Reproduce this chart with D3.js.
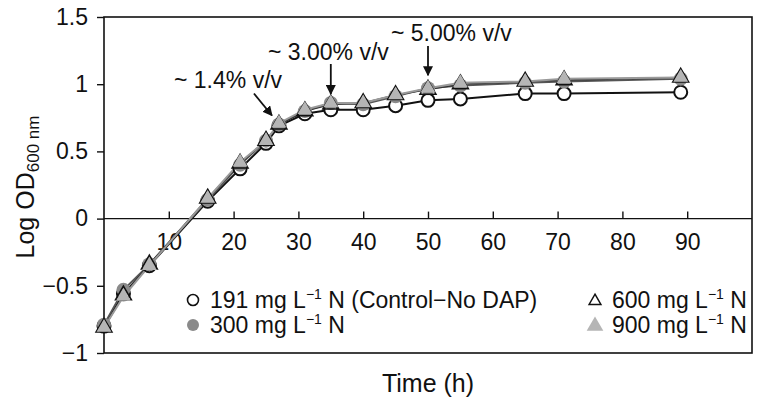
<!DOCTYPE html>
<html><head><meta charset="utf-8">
<script src="https://cdn.jsdelivr.net/npm/d3@7"></script>
<style>
body{margin:0;background:#fff;}
text{font-family:"Liberation Sans",Arial,Helvetica,sans-serif;fill:#111;}
</style></head>
<body><svg id="c" width="764" height="409"></svg>
<script>
const times = [0, 3, 7, 16, 21, 25, 27, 31, 35, 40, 45, 50, 55, 65, 71, 89];
const control191 = [-0.80, -0.56, -0.35, 0.13, 0.37, 0.56, 0.69, 0.78, 0.81, 0.81, 0.84, 0.88, 0.89, 0.93, 0.93, 0.94];
const n300 = [-0.79, -0.53, -0.34, 0.14, 0.40, 0.58, 0.70, 0.80, 0.86, 0.85, 0.91, 0.97, 0.99, 1.01, 1.02, 1.04];
const n600 = [-0.81, -0.57, -0.34, 0.15, 0.41, 0.58, 0.70, 0.80, 0.85, 0.86, 0.92, 0.96, 1.00, 1.02, 1.03, 1.05];
const n900 = [-0.81, -0.58, -0.35, 0.15, 0.42, 0.58, 0.71, 0.81, 0.86, 0.86, 0.92, 0.97, 1.01, 1.02, 1.04, 1.05];
const xTicks = [10, 20, 30, 40, 50, 60, 70, 80, 90];
const yTicks = [-1, -0.5, 0, 0.5, 1, 1.5];
const annotations = [
  {label: "~ 1.4% v/v", t: 27, v: 0.70},
  {label: "~ 3.00% v/v", t: 35, v: 0.86},
  {label: "~ 5.00% v/v", t: 50, v: 0.97}
];

const svg = d3.select("#c");
const L = 104, R = 752, T = 17, B = 353;
const FS = 23;
const x = d3.scaleLinear().domain([0, 100]).range([L, R]);
const y = d3.scaleLinear().domain([-1, 1.5]).range([B, T]);

// frame
svg.append("rect").attr("x", L).attr("y", T).attr("width", R - L).attr("height", B - T)
  .attr("fill", "none").attr("stroke", "#111").attr("stroke-width", 1.6);

// y axis
const ya = svg.append("g").attr("transform", `translate(${L},0)`)
  .call(d3.axisLeft(y).tickValues(yTicks).tickSize(7).tickPadding(9)
    .tickFormat(d => d3.format("")(d).replace("-", "\u2212")));
ya.select(".domain").remove();
ya.selectAll("line").attr("stroke", "#111").attr("stroke-width", 1.4);
ya.selectAll("text").attr("font-size", FS).attr("fill", "#111");

// x axis at y=0 with upward ticks
const xa = svg.append("g").attr("transform", `translate(0,${y(0)})`)
  .call(d3.axisBottom(x).tickValues(xTicks).tickSize(-7).tickPadding(15));
xa.select(".domain").attr("d", `M${L},0H${R}`).attr("stroke", "#111").attr("stroke-width", 1.4);
xa.selectAll("line").attr("stroke", "#111").attr("stroke-width", 1.4);
xa.selectAll("text").attr("font-size", FS).attr("fill", "#111");

// lines
const series = [
  {vals: control191, line: "#111", lw: 2},
  {vals: n300, line: "#555", lw: 1.8},
  {vals: n600, line: "#333", lw: 1.6},
  {vals: n900, line: "#9a9a9a", lw: 2}
];
const lineGen = d3.line().x((d, i) => x(times[i])).y(d => y(d));
series.forEach(s => {
  svg.append("path").attr("d", lineGen(s.vals)).attr("fill", "none")
    .attr("stroke", s.line).attr("stroke-width", s.lw);
});

const triPath = r => d3.symbol().type(d3.symbolTriangle).size(r)();

// markers
svg.append("g").selectAll("circle").data(control191).join("circle")
  .attr("cx", (d, i) => x(times[i])).attr("cy", d => y(d)).attr("r", 6.5)
  .attr("fill", "#fff").attr("stroke", "#111").attr("stroke-width", 2);
svg.append("g").selectAll("circle").data(n300).join("circle")
  .attr("cx", (d, i) => x(times[i])).attr("cy", d => y(d)).attr("r", 7)
  .attr("fill", "#8a8a8a").attr("stroke", "none");
svg.append("g").selectAll("path").data(n600).join("path")
  .attr("d", triPath(110))
  .attr("transform", (d, i) => `translate(${x(times[i])},${y(d)})`)
  .attr("fill", "none").attr("stroke", "#111").attr("stroke-width", 1.5);
svg.append("g").selectAll("path").data(n900).join("path")
  .attr("d", triPath(95))
  .attr("transform", (d, i) => `translate(${x(times[i])},${y(d)})`)
  .attr("fill", "#b5b5b5").attr("stroke", "none");

// annotations
svg.append("defs").append("marker").attr("id", "ah").attr("viewBox", "0 0 10 10")
  .attr("refX", 9).attr("refY", 5).attr("markerWidth", 10).attr("markerHeight", 10)
  .attr("markerUnits", "userSpaceOnUse").attr("orient", "auto")
  .append("path").attr("d", "M0,0L10,5L0,10Z").attr("fill", "#111");

{
  const a = annotations[0];
  const px = x(a.t), py = y(a.v);
  svg.append("text").attr("x", 174).attr("y", 88).attr("font-size", FS).text(a.label);
  svg.append("line").attr("x1", px - 25).attr("y1", py - 31).attr("x2", px - 7).attr("y2", py - 9)
    .attr("stroke", "#111").attr("stroke-width", 1.8).attr("marker-end", "url(#ah)");
}
{
  const a = annotations[1];
  const px = x(a.t), py = y(a.v);
  svg.append("text").attr("x", 268).attr("y", 60).attr("font-size", FS).text(a.label);
  svg.append("line").attr("x1", px).attr("y1", 64).attr("x2", px).attr("y2", py - 9)
    .attr("stroke", "#111").attr("stroke-width", 1.8).attr("marker-end", "url(#ah)");
}
{
  const a = annotations[2];
  const px = x(a.t), py = y(a.v);
  svg.append("text").attr("x", 391).attr("y", 41).attr("font-size", FS).text(a.label);
  svg.append("line").attr("x1", px).attr("y1", 46).attr("x2", px).attr("y2", py - 13)
    .attr("stroke", "#111").attr("stroke-width", 1.8).attr("marker-end", "url(#ah)");
}

// legend
function legendText(xp, yp, pre, post) {
  const t = svg.append("text").attr("x", xp).attr("y", yp).attr("font-size", FS);
  t.append("tspan").text(pre);
  t.append("tspan").attr("dy", -9).attr("font-size", 14).text("\u22121");
  t.append("tspan").attr("dy", 9).text(post);
}
svg.append("circle").attr("cx", 193).attr("cy", 300).attr("r", 5.5)
  .attr("fill", "#fff").attr("stroke", "#111").attr("stroke-width", 1.6);
legendText(210, 308, "191 mg L", " N (Control\u2212No DAP)");
svg.append("circle").attr("cx", 193).attr("cy", 325).attr("r", 6).attr("fill", "#8a8a8a");
legendText(210, 333, "300 mg L", " N");
svg.append("path").attr("d", triPath(60)).attr("transform", "translate(595,301)")
  .attr("fill", "none").attr("stroke", "#111").attr("stroke-width", 1.5);
legendText(612, 308, "600 mg L", " N");
svg.append("path").attr("d", triPath(120)).attr("transform", "translate(595,326)")
  .attr("fill", "#b5b5b5");
legendText(612, 333, "900 mg L", " N");

// axis titles
svg.append("text").attr("x", 428).attr("y", 392).attr("text-anchor", "middle")
  .attr("font-size", 25).text("Time (h)");
const yl = svg.append("text").attr("transform", "translate(34,187) rotate(-90)")
  .attr("text-anchor", "middle").attr("font-size", 25);
yl.append("tspan").text("Log OD");
yl.append("tspan").attr("dy", 5).attr("font-size", 17).text("600 nm");
</script></body></html>
